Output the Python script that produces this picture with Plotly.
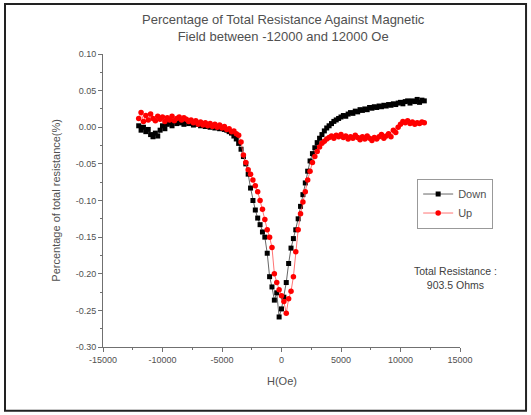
import plotly.graph_objects as go

# field sweep, Oe
field = list(range(-12000, 12001, 200))

down_pct = [
    0.002, -0.004, 0.000, -0.006, -0.003, -0.010, -0.013, -0.008, -0.012, -0.004,
    0.002, -0.002, 0.004, 0.006, 0.002, 0.008, 0.005, 0.009, 0.006, 0.004,
    0.008, 0.005, 0.007, 0.003, 0.006, 0.004, 0.002, 0.005, 0.001, 0.003,
    0.000, 0.002, -0.001, 0.001, -0.002, 0.000, -0.003, -0.004, -0.006, -0.008,
    -0.012, -0.016, -0.022, -0.030, -0.040, -0.050, -0.064, -0.083, -0.100, -0.113,
    -0.124, -0.133, -0.143, -0.150, -0.172, -0.204, -0.218, -0.236, -0.226, -0.259,
    -0.248, -0.232, -0.212, -0.186, -0.165, -0.152, -0.140, -0.125, -0.108, -0.092,
    -0.076, -0.060, -0.046, -0.036, -0.028, -0.021, -0.015, -0.010, -0.005, -0.001,
    0.002, 0.005, 0.008, 0.010, 0.012, 0.014, 0.016, 0.015, 0.018, 0.020,
    0.019, 0.022, 0.021, 0.024, 0.023, 0.025, 0.024, 0.027, 0.026, 0.028,
    0.027, 0.029, 0.028, 0.030, 0.029, 0.031, 0.030, 0.032, 0.031, 0.033,
    0.034, 0.032, 0.035, 0.036, 0.033, 0.036, 0.035, 0.038, 0.034, 0.037,
    0.036,
]

up_pct = [
    0.012, 0.020, 0.008, 0.016, 0.010, 0.018, 0.012, 0.009, 0.015, 0.011,
    0.014, 0.008, 0.013, 0.010, 0.015, 0.009, 0.012, 0.014, 0.010, 0.013,
    0.011, 0.008, 0.010, 0.006, 0.009, 0.004, 0.007, 0.003, 0.006, 0.002,
    0.005, 0.001, 0.004, 0.000, 0.003, -0.001, 0.001, -0.003, -0.002, -0.006,
    -0.005, -0.009, -0.011, -0.020, -0.038, -0.048, -0.058, -0.064, -0.072, -0.080,
    -0.088, -0.100, -0.112, -0.126, -0.140, -0.150, -0.164, -0.200, -0.212, -0.222,
    -0.230, -0.238, -0.254, -0.234, -0.224, -0.204, -0.170, -0.140, -0.118, -0.102,
    -0.088, -0.072, -0.060, -0.048, -0.040, -0.033, -0.027, -0.022, -0.019, -0.016,
    -0.014, -0.012, -0.015, -0.011, -0.013, -0.010, -0.014, -0.012, -0.016, -0.013,
    -0.015, -0.011, -0.014, -0.017, -0.013, -0.016, -0.012, -0.015, -0.018, -0.014,
    -0.016, -0.013, -0.010, -0.015, -0.012, -0.009, -0.013, -0.004, -0.007, 0.000,
    0.004, 0.008, 0.006, 0.009, 0.005, 0.007, 0.004, 0.006, 0.005, 0.007,
    0.006,
]

x_ticks = [-15000, -10000, -5000, 0, 5000, 10000, 15000]
x_labels = ["-15000", "-10000", "-5000", "0", "5000", "10000", "15000"]
y_ticks = [0.10, 0.05, 0.00, -0.05, -0.10, -0.15, -0.20, -0.25, -0.30]
y_labels = ["0.10", "0.05", "0.00", "-0.05", "-0.10", "-0.15", "-0.20", "-0.25", "-0.30"]

FONT = "Liberation Sans, Arial, sans-serif"
TXT = "#505050"
AX = "#707070"

down = go.Scatter(
    x=field, y=down_pct,
    mode='lines+markers',
    name='Down',
    line=dict(color='#404040', width=0.8),
    marker=dict(symbol='square', size=5, color='black'),
)
up = go.Scatter(
    x=field, y=up_pct,
    mode='lines+markers',
    name='Up',
    line=dict(color='#ff5050', width=0.8),
    marker=dict(symbol='circle', size=5.5, color='red'),
)

axis_common = dict(
    showgrid=False, zeroline=False,
    showline=True, linecolor=AX, linewidth=1,
    ticks='outside', ticklen=4, tickcolor=AX, tickwidth=1,
    tickfont=dict(family=FONT, size=9, color=TXT),
)

layout = go.Layout(
    width=531, height=415,
    margin=dict(l=103, r=71, t=54, b=68),
    paper_bgcolor='white', plot_bgcolor='white',
    font=dict(family=FONT, color=TXT),
    xaxis=dict(
        range=[-15000, 15000],
        tickvals=x_ticks, ticktext=x_labels,
        minor=dict(dtick=2500, tick0=-15000, ticks='outside', ticklen=2, tickcolor=AX),
        **axis_common
    ),
    yaxis=dict(
        range=[-0.30, 0.10],
        tickvals=y_ticks, ticktext=y_labels,
        minor=dict(dtick=0.025, tick0=-0.30, ticks='outside', ticklen=2, tickcolor=AX),
        **axis_common
    ),
    showlegend=True,
    legend=dict(
        x=0.88, y=0.575, xanchor='left', yanchor='top',
        bordercolor='#999999', borderwidth=1,
        font=dict(family=FONT, size=11, color=TXT),
        itemwidth=30, tracegroupgap=0,
    ),
    annotations=[
        dict(text="Percentage of Total Resistance Against Magnetic<br>Field between -12000 and 12000 Oe",
             xref='paper', yref='paper', x=0.505, y=1.09, showarrow=False,
             xanchor='center', yanchor='middle',
             font=dict(family=FONT, size=13, color=TXT)),
        dict(text="H(Oe)", xref='paper', yref='paper', x=0.5, y=-0.116,
             showarrow=False, yanchor='middle',
             font=dict(family=FONT, size=11, color=TXT)),
        dict(text="Percentage of total resistance(%)", xref='paper', yref='paper',
             x=-0.134, y=0.5, textangle=-90, showarrow=False,
             xanchor='center', yanchor='middle',
             font=dict(family=FONT, size=11, color=TXT)),
        dict(text="Total Resistance :<br>903.5 Ohms", xref='paper', yref='paper',
             x=0.986, y=0.235, showarrow=False, xanchor='center', yanchor='middle',
             font=dict(family=FONT, size=10.5, color='#404040')),
    ],
    shapes=[
        # outer frame around the whole picture
        dict(type='rect', xref='paper', yref='paper',
             x0=-0.2745, x1=1.185, y0=-0.218, y1=1.1706,
             line=dict(color='#222222', width=2)),
    ],
)

fig = go.Figure(data=[down, up], layout=layout)
# page body has a default 8px margin; drop it so the figure sits at the window origin
fig.write_html("out.html", config={'displayModeBar': False},
               post_script="document.body.style.margin='0';")
